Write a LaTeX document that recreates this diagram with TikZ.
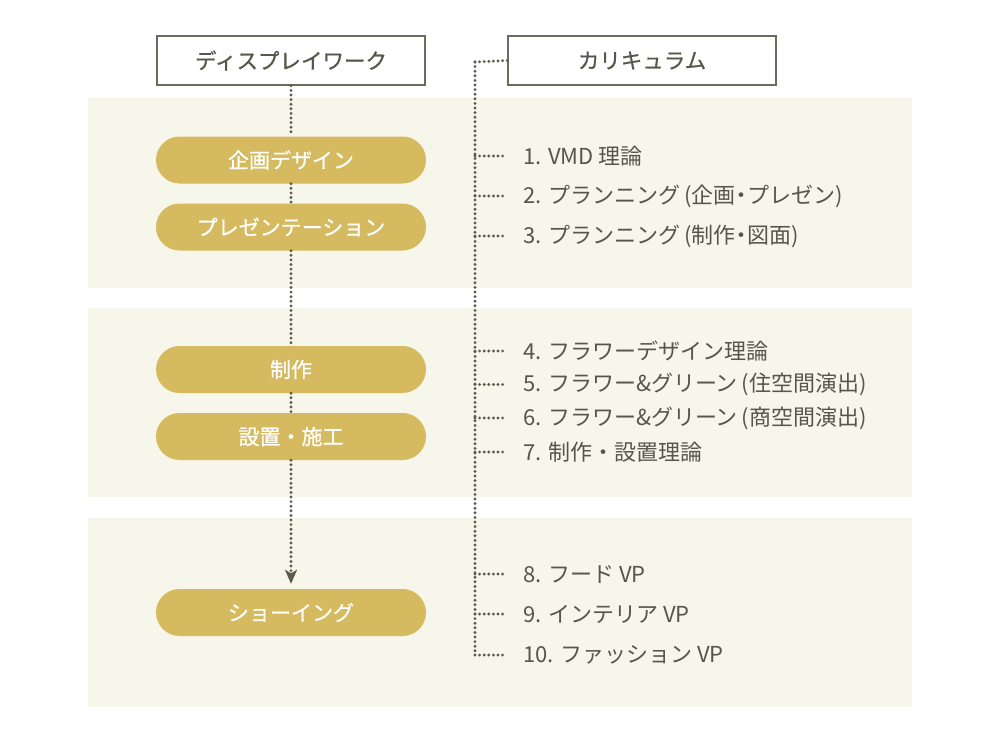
\documentclass[tikz,border=0pt]{standalone}
\usepackage{fontspec}
\setmainfont{Noto Sans CJK JP}
\newfontfamily\midfont[FakeBold=0.6]{Noto Sans CJK JP}
\usetikzlibrary{arrows.meta,positioning,backgrounds}
\definecolor{band}{HTML}{F7F6EA}
\definecolor{gold}{HTML}{D5BA60}
\definecolor{ink}{HTML}{57564A}
\definecolor{frame}{HTML}{6F6B5C}
\definecolor{dotc}{HTML}{5F5B4B}
\newcommand{\nd}{\kern-0.22em・\kern-0.22em}
\newcommand{\lp}{\kern0.18em(}
\tikzset{
  header/.style={draw=frame, line width=1.6pt, fill=white, minimum width=268pt, minimum height=49pt, text=ink, font=\fontsize{21.5}{24}\midfont},
  pill/.style={fill=gold, rounded corners=23.5pt, minimum width=270pt, minimum height=47pt, text=white, font=\fontsize{21}{24}\midfont},
  item/.style={anchor=west, inner sep=0pt, text=ink, font=\fontsize{22}{26}\selectfont},
  dotline/.style={dotc, line width=3.2pt, dash pattern=on 0pt off 4.6pt, line cap=round}
}
\begin{document}
\begin{tikzpicture}[x=1pt, y=-1pt]
        \useasboundingbox (0,0) rectangle (1000,752);
        % Bands
        \fill[band] (88,98) rectangle (912,288);
        \fill[band] (88,308) rectangle (912,497);
        \fill[band] (88,518) rectangle (912,707);
        % Headers
        \node[header] (hdisp) at (291,60.5) {ディスプレイワーク};
        \node[header] (hcur) at (642,60.5) {カリキュラム};
        % Work steps
        \node[pill] (plan) at (291,160) {企画デザイン};
        \node[pill] (pres) at (291,227) {プレゼンテーション};
        \node[pill] (make) at (291,369.5) {制作};
        \node[pill] (inst) at (291,436.5) {設置・施工};
        \node[pill] (show) at (291,612.5) {ショーイング};
        % Flow
        \draw[dotline] (hdisp.south) -- (plan.north);
        \draw[dotline] (plan.south) -- (pres.north);
        \draw[dotline] (pres.south) -- (make.north);
        \draw[dotline] (make.south) -- (inst.north);
        \draw[dotline, shorten >=5pt, -{Stealth[length=14pt, width=12pt, inset=3.5pt]}] (inst.south) -- (show.north);
        % Curriculum
        \node[item] (c1) at (523,156) {1. VMD 理論};
        \node[item] (c2) at (523,196) {2. プランニング\lp 企画\nd プレゼン)};
        \node[item] (c3) at (523,236) {3. プランニング\lp 制作\nd 図面)};
        \node[item] (c4) at (523,351) {4. フラワーデザイン理論};
        \node[item] (c5) at (523,384.5) {5. フラワー\&グリーン\lp 住空間演出)};
        \node[item] (c6) at (523,418) {6. フラワー\&グリーン\lp 商空間演出)};
        \node[item] (c7) at (523,452) {7. 制作・設置理論};
        \node[item] (c8) at (523,574) {8. フード VP};
        \node[item] (c9) at (523,614) {9. インテリア VP};
        \node[item] (c10) at (523,655) {10. ファッション VP};
        % Tree
        \coordinate (spine) at (475,62);
        \draw[dotline] (spine) -- (hcur.west);
        \draw[dotline] (spine) -- (spine |- c10.west);
        \draw[dotline] (spine |- c1.west) -- ([xshift=-16pt]c1.west);
        \draw[dotline] (spine |- c2.west) -- ([xshift=-16pt]c2.west);
        \draw[dotline] (spine |- c3.west) -- ([xshift=-16pt]c3.west);
        \draw[dotline] (spine |- c4.west) -- ([xshift=-16pt]c4.west);
        \draw[dotline] (spine |- c5.west) -- ([xshift=-16pt]c5.west);
        \draw[dotline] (spine |- c6.west) -- ([xshift=-16pt]c6.west);
        \draw[dotline] (spine |- c7.west) -- ([xshift=-16pt]c7.west);
        \draw[dotline] (spine |- c8.west) -- ([xshift=-16pt]c8.west);
        \draw[dotline] (spine |- c9.west) -- ([xshift=-16pt]c9.west);
        \draw[dotline] (spine |- c10.west) -- ([xshift=-16pt]c10.west);
    \end{tikzpicture}
\end{document}
